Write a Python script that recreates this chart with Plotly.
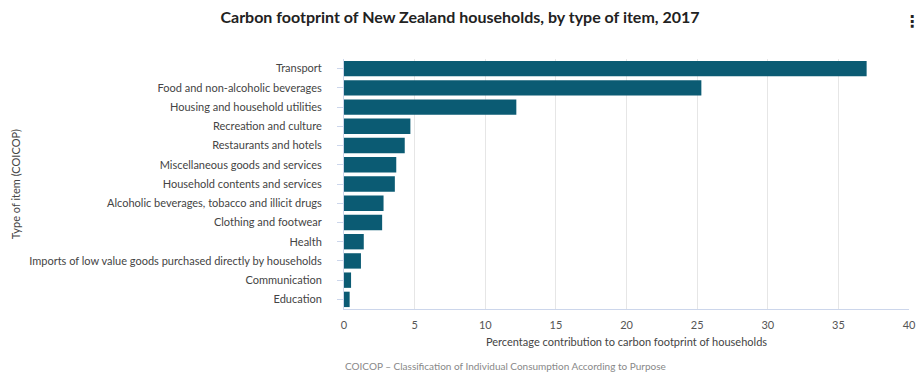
import plotly.graph_objects as go

categories = [
    "Transport",
    "Food and non-alcoholic beverages",
    "Housing and household utilities",
    "Recreation and culture",
    "Restaurants and hotels",
    "Miscellaneous goods and services",
    "Household contents and services",
    "Alcoholic beverages, tobacco and illicit drugs",
    "Clothing and footwear",
    "Health",
    "Imports of low value goods purchased directly by households",
    "Communication",
    "Education",
]
values = [37.0, 25.3, 12.2, 4.7, 4.3, 3.7, 3.6, 2.8, 2.7, 1.4, 1.2, 0.5, 0.4]
x_ticks = [0, 5, 10, 15, 20, 25, 30, 35, 40]

FONT = "Lato"
fig = go.Figure(go.Bar(
    x=values, y=categories, orientation="h",
    marker=dict(color="#0b5b73", line=dict(width=0)),
    hoverinfo="x+y",
))

fig.update_layout(
    width=920, height=384, autosize=False,
    margin=dict(l=344, r=11, t=59, b=75, autoexpand=False),
    paper_bgcolor="white", plot_bgcolor="white",
    bargap=0.2,
    showlegend=False,
    font=dict(family=FONT, size=11, color="#444"),
    title=dict(
        text="<b>Carbon footprint of New Zealand households, by type of item, 2017</b>",
        x=0.5, xanchor="center", y=0.955, yanchor="middle",
        font=dict(family=FONT, size=16, color="#222"),
    ),
    xaxis=dict(
        range=[0, 40], tickvals=x_ticks, ticktext=[str(t) for t in x_ticks],
        showgrid=True, gridcolor="#e6e6e6", gridwidth=1,
        showline=True, linecolor="#ccd6eb", linewidth=1,
        zeroline=False, ticks="", ticklen=0, ticklabelstandoff=6,
        tickfont=dict(family=FONT, size=11, color="#555"),
        title=dict(text="Percentage contribution to carbon footprint of households",
                   font=dict(family=FONT, size=11, color="#444"), standoff=8),
        fixedrange=True, automargin=False,
    ),
    yaxis=dict(
        categoryorder="array", categoryarray=categories, autorange="reversed",
        showline=True, linecolor="#ccd6eb", linewidth=1,
        ticks="outside", ticklen=6, tickcolor="#ccd6eb", ticklabelstandoff=13,
        tickfont=dict(family=FONT, size=11, color="#444"),
        showgrid=False, zeroline=False,
        fixedrange=True, automargin=False,
    ),
    annotations=[
        dict(text="Type of item (COICOP)", textangle=-90,
             xref="paper", yref="paper", x=-0.582, y=0.5, xanchor="center", yanchor="middle",
             showarrow=False, font=dict(family=FONT, size=11, color="#444")),
        dict(text="COICOP – Classification of Individual Consumption According to Purpose",
             xref="paper", yref="paper", x=-0.002, y=-0.226, xanchor="left", yanchor="middle",
             showarrow=False, font=dict(family=FONT, size=10, color="#888")),
        dict(text="<b>⋮</b>", xref="paper", yref="paper", x=1.005, y=1.15,
             xanchor="center", yanchor="middle", showarrow=False,
             font=dict(family="DejaVu Sans", size=16, color="#222")),
    ],
)

fig.write_html("out.html", config={"displayModeBar": False, "responsive": False},
               post_script="document.body.style.margin='0';document.body.style.overflow='hidden';")
